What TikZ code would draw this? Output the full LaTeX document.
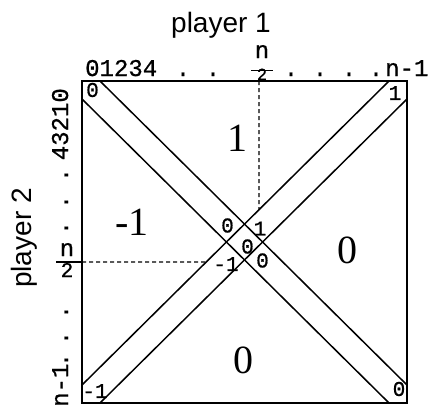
\documentclass[tikz,border=0pt]{standalone}
\usepackage{fontspec}
\setmainfont{Liberation Serif}
\setsansfont{Liberation Sans}
\setmonofont{Liberation Mono}[FakeBold=0.8]
\usetikzlibrary{positioning}

\begin{document}
\begin{tikzpicture}[x=1pt,y=-1pt,
  every node/.style={inner sep=0pt},
  ax/.style={font=\fontsize{24}{24}\selectfont\ttfamily},
  half/.style={font=\fontsize{17}{17}\selectfont\ttfamily},
  cell/.style={font=\fontsize{21}{21}\selectfont\ttfamily},
  big/.style={font=\fontsize{40}{40}\selectfont},
  who/.style={font=\fontsize{28}{28}\selectfont\sffamily},
  band/.style={line width=1.5pt},
  guide/.style={line width=1.2pt,dash pattern=on 4pt off 3pt}]
\useasboundingbox (0,0) rectangle (434,416);
\coordinate (tl) at (82,81);
\coordinate (br) at (407,403);
\draw[line width=1.8pt] (tl) rectangle (br);
\coordinate (d1a) at (100,81);  \coordinate (d1b) at (407,385);
\coordinate (d2a) at (82,99);   \coordinate (d2b) at (389,403);
\coordinate (e1a) at (82,385);  \coordinate (e1b) at (389,81);
\coordinate (e2a) at (100,403); \coordinate (e2b) at (407,99);
\draw[band] (d1a) -- (d1b);
\draw[band] (d2a) -- (d2b);
\draw[band] (e1a) -- (e1b);
\draw[band] (e2a) -- (e2b);
\coordinate (vtop) at (259,81);  \coordinate (vbot) at (259,403);
\coordinate (hl) at (82,262);    \coordinate (hr) at (407,262);
\coordinate (fl) at (56,262);
\draw[guide] (vtop) -- (intersection of vtop--vbot and e1a--e1b);
\draw[guide] (hl) -- (intersection of hl--hr and e1a--e1b);
\draw[line width=1.2pt] (fl) -- (hl);
\coordinate (ftl) at (251,70.5); \coordinate (ftr) at (273,70.5);
\draw[line width=1.2pt] (ftl) -- (ftr);
\node[who,anchor=base] (p1) at (221,32) {player 1};
\node[who,anchor=base,rotate=90] (p2) at (31,238) {player 2};
\node[ax,anchor=base west] (c0) at (85,76) {01234};
\foreach \x in {183,213,291,320,349,376}
  \node[ax,anchor=base] (cd\x) at (\x,76) {.};
\node[ax,anchor=base] (cn) at (262,58) {n};
\node[half,anchor=base] (ch) at (262,80) {2};
\node[ax,anchor=base west] (cl) at (385,76) {n-1};
\node[ax,anchor=base east,rotate=90] (r0) at (68,88) {43210};
\foreach \y in {175,202,228,312,338,360}
  \node[ax,anchor=base,rotate=90] (rd\y) at (68,\y) {.};
\node[ax,anchor=base] (rn) at (67,256) {n};
\node[cell,anchor=base] (rh) at (67,277) {2};
\node[ax,anchor=base west,rotate=90] (rl) at (68,407) {n-1};
\node[cell] (ktl) at (92.5,90) {0};
\node[cell] (ktr) at (395,93) {1};
\node[cell] (kbl) at (95,391) {-1};
\node[cell] (kbr) at (399,389) {0};
\node[cell] (mtl) at (227.5,225.5) {0};
\node[cell] (mtr) at (260,228.5) {1};
\node[cell] (mc) at (247.5,246.5) {0};
\node[cell] (mbl) at (226,264) {-1};
\node[cell] (mbr) at (262.5,260.5) {0};
\node[big] (bt) at (237,138) {1};
\node[big] (bl) at (132,222) {-1};
\node[big] (br0) at (347,250) {0};
\node[big] (bb) at (243,360) {0};
\end{tikzpicture}
\end{document}
